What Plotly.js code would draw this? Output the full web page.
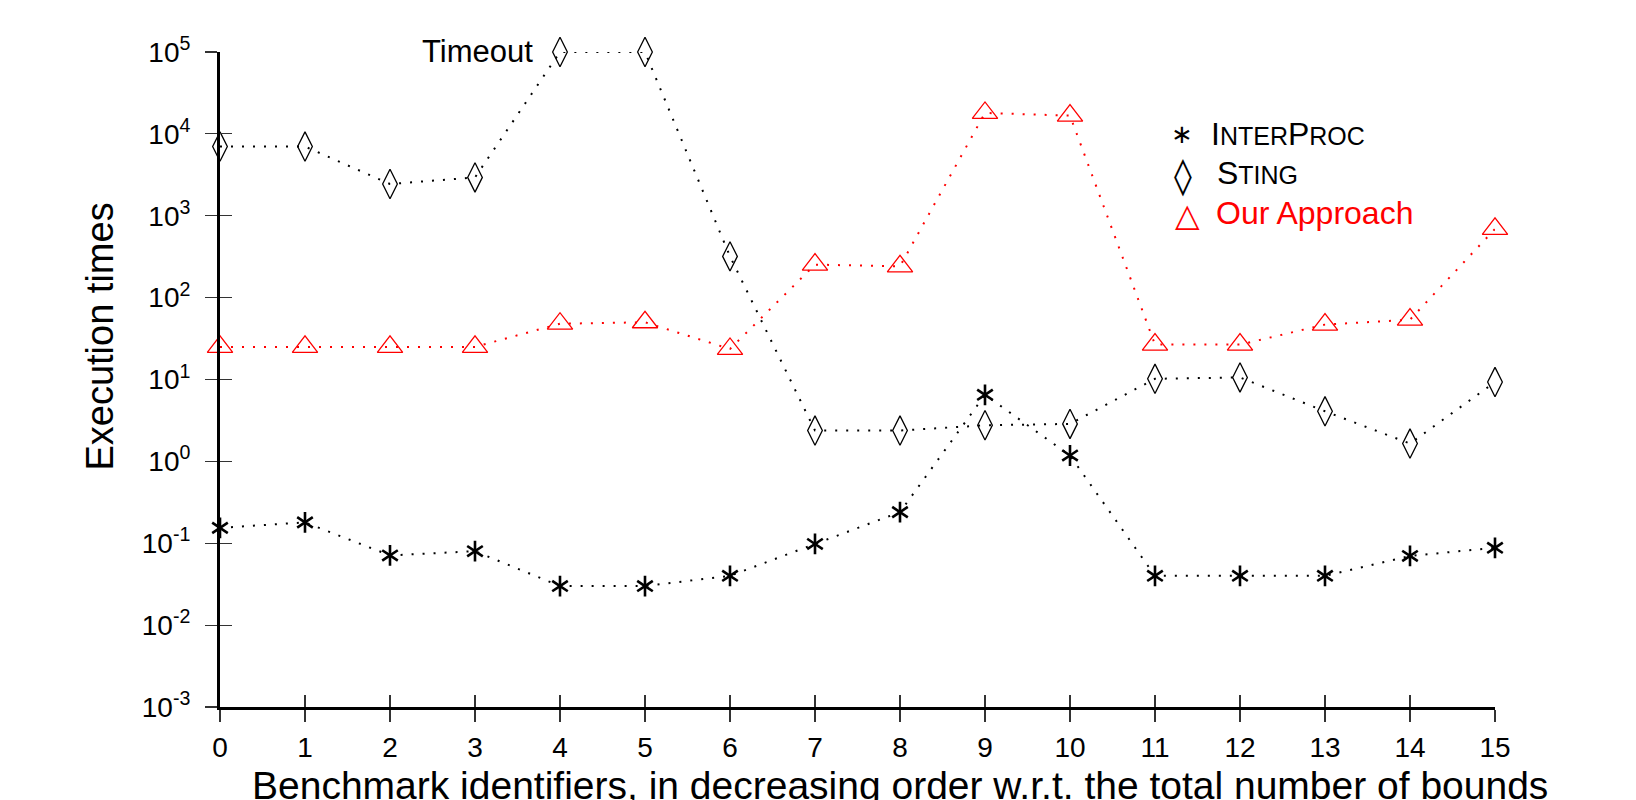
<!DOCTYPE html>
<html>
<head>
<meta charset="utf-8">
<script src="https://cdn.plot.ly/plotly-3.0.1.min.js"></script>
<style>
html, body { margin: 0; padding: 0; background: #ffffff; }
#chart { width: 1636px; height: 800px; }
</style>
</head>
<body>
<div id="chart"></div>
<script>
// ---- data ----
const benchmarkIds = [0, 1, 2, 3, 4, 5, 6, 7, 8, 9, 10, 11, 12, 13, 14, 15];
const interprocTimes = [0.154, 0.18, 0.071, 0.08, 0.03, 0.03, 0.04, 0.098, 0.24, 6.5, 1.18, 0.04, 0.04, 0.04, 0.07, 0.088];
const stingTimes = [7000, 7000, 2440, 2940, 100000, 100000, 319, 2.38, 2.38, 2.76, 2.87, 10.2, 10.6, 4.09, 1.65, 9.3];
const ourTimes = [25, 25, 25, 25, 48, 50, 23.6, 253, 241, 18000, 16700, 26.7, 26.7, 46.8, 53.8, 690];

const yTickExponents = [-3, -2, -1, 0, 1, 2, 3, 4, 5];
const yTickLabels = ['10<sup>-3</sup>', '10<sup>-2</sup>', '10<sup>-1</sup>', '10<sup>0</sup>', '10<sup>1</sup>',
                     '10<sup>2</sup>', '10<sup>3</sup>', '10<sup>4</sup>', '10<sup>5</sup>'];
const xTickLabels = ['0', '1', '2', '3', '4', '5', '6', '7', '8', '9', '10', '11', '12', '13', '14', '15'];

const seriesNames = [
  "I<span style='font-size:25px'>NTER</span>P<span style='font-size:25px'>ROC</span>",
  "S<span style='font-size:25px'>TING</span>",
  "Our Approach"
];
const legendSymbols = ['\u2217', '\u25CA', '\u25B3'];
const timeoutLabel = 'Timeout';
const xTitle = 'Benchmark identifiers, in decreasing order w.r.t. the total number of bounds';
const yTitle = 'Execution times';

// ---- styling / geometry ----
const FONT = 'Liberation Sans, Arial, Helvetica, sans-serif';
const BLACK = '#000000';
const RED = '#ff0000';
const DOTS = '2px,9px';
const plotL = 219.8, plotR = 1494.8, plotT = 52.3, plotB = 707.3;
const pxX = px => (px - plotL) / (plotR - plotL);
const pxY = py => (plotB - py) / (plotB - plotT);

const yTickVals = yTickExponents.map(e => Math.pow(10, e));

const traces = [
  {
    x: benchmarkIds, y: interprocTimes, type: 'scatter', mode: 'lines+markers',
    name: 'INTERPROC', cliponaxis: false,
    line: { color: BLACK, width: 2, dash: DOTS },
    marker: { symbol: 'y-up-open', size: 13, color: BLACK, line: { color: BLACK, width: 2.6 } }
  },
  {
    x: benchmarkIds, y: interprocTimes, type: 'scatter', mode: 'markers',
    name: 'INTERPROC', cliponaxis: false, xaxis: 'x2', yaxis: 'y2',
    marker: { symbol: 'y-down-open', size: 13, color: BLACK, line: { color: BLACK, width: 2.6 } }
  },
  {
    x: benchmarkIds, y: stingTimes, type: 'scatter', mode: 'lines+markers',
    name: 'STING', cliponaxis: false,
    line: { color: BLACK, width: 2, dash: DOTS },
    marker: { symbol: 'diamond-tall-open', size: 21, color: BLACK, line: { color: BLACK, width: 1.3 } }
  },
  {
    x: benchmarkIds, y: ourTimes, type: 'scatter', mode: 'lines+markers',
    name: 'Our Approach', cliponaxis: false,
    line: { color: RED, width: 2, dash: DOTS },
    marker: { symbol: 'triangle-up-open', size: 22, color: RED, line: { color: RED, width: 1.3 } }
  }
];

const annotations = [
  {
    x: benchmarkIds[4], y: Math.log10(stingTimes[4]), xref: 'x', yref: 'y',
    text: timeoutLabel, showarrow: false, xanchor: 'right', yanchor: 'middle',
    xshift: -25, yshift: 1, font: { family: FONT, size: 31, color: BLACK }
  },
  {
    x: pxX(899.4), y: pxY(785.4), xref: 'paper', yref: 'paper',
    text: xTitle, showarrow: false, xanchor: 'center', yanchor: 'middle',
    font: { family: FONT, size: 39, color: BLACK }
  },
  {
    x: pxX(99.7), y: pxY(337), xref: 'paper', yref: 'paper',
    text: yTitle, showarrow: false, textangle: -90, xanchor: 'center', yanchor: 'middle',
    font: { family: FONT, size: 38, color: BLACK }
  }
];

const legendRowText = [134.5, 173.8, 212.8];
const legendRowSym = [134.3, 176, 215.7];
const legendSymX = [1182, 1183, 1187];
const legendSymSize = [26, 36, 32];
const legendColors = [BLACK, BLACK, RED];
const legendTextX = [1209, 1215, 1214];
for (let i = 0; i < 3; i++) {
  annotations.push({
    x: pxX(legendSymX[i]), y: pxY(legendRowSym[i]), xref: 'paper', yref: 'paper',
    text: legendSymbols[i], showarrow: false, xanchor: 'center', yanchor: 'middle',
    font: { family: i === 0 ? 'Liberation Serif, serif' : 'DejaVu Sans, sans-serif', size: legendSymSize[i], color: legendColors[i] }
  });
  annotations.push({
    x: pxX(legendTextX[i]), y: pxY(legendRowText[i]), xref: 'paper', yref: 'paper',
    text: seriesNames[i], showarrow: false, xanchor: 'left', yanchor: 'middle',
    font: { family: FONT, size: 32, color: legendColors[i] }
  });
}

const baseX = {
  range: [benchmarkIds[0], benchmarkIds[benchmarkIds.length - 1]],
  tickmode: 'array', tickvals: benchmarkIds, ticktext: xTickLabels,
  ticklen: 12, tickwidth: 1.2, tickcolor: '#333333',
  showgrid: false, zeroline: false, fixedrange: true
};
const baseY = {
  type: 'log', range: [yTickExponents[0], yTickExponents[yTickExponents.length - 1]],
  tickmode: 'array', tickvals: yTickVals, ticktext: yTickLabels,
  ticklen: 12, tickwidth: 1.2, tickcolor: '#333333',
  showgrid: false, zeroline: false, fixedrange: true
};

const layout = {
  width: 1636, height: 800,
  margin: { l: plotL, r: 1636 - plotR, t: plotT, b: 800 - plotB, pad: 0 },
  paper_bgcolor: '#ffffff', plot_bgcolor: '#ffffff',
  showlegend: false,
  font: { family: FONT, color: BLACK, size: 28 },
  xaxis: Object.assign({}, baseX, {
    ticks: 'outside', showline: true, linewidth: 3, linecolor: BLACK,
    tickfont: { family: FONT, size: 28, color: BLACK }, ticklabelstandoff: 1
  }),
  xaxis2: Object.assign({}, baseX, {
    overlaying: 'x', anchor: 'y2', side: 'bottom',
    ticks: 'inside', showline: false, showticklabels: false
  }),
  yaxis: Object.assign({}, baseY, {
    ticks: 'outside', showline: true, linewidth: 3, linecolor: BLACK,
    tickfont: { family: FONT, size: 28, color: BLACK }, ticklabelstandoff: 9
  }),
  yaxis2: Object.assign({}, baseY, {
    overlaying: 'y', anchor: 'x2', side: 'left',
    ticks: 'inside', showline: false, showticklabels: false
  }),
  annotations: annotations
};

Plotly.newPlot('chart', traces, layout, { displayModeBar: false, staticPlot: true });
</script>
</body>
</html>
